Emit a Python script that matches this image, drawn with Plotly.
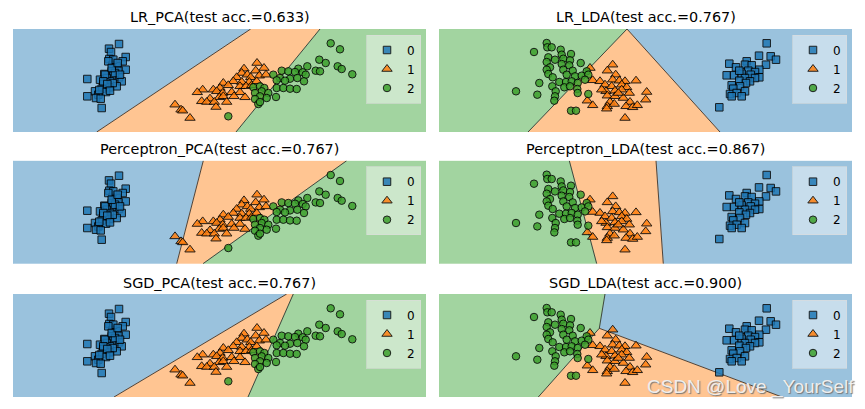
import plotly.graph_objects as go

# ---------------- data (panel units: x 0..413 left->right, y 0..103 top->bottom) -------------
class_labels = ["0", "1", "2"]
titles = [
    "LR_PCA(test acc.=0.633)", "LR_LDA(test acc.=0.767)",
    "Perceptron_PCA(test acc.=0.767)", "Perceptron_LDA(test acc.=0.867)",
    "SGD_PCA(test acc.=0.767)", "SGD_LDA(test acc.=0.900)",
]

pca_c0 = [(106, 15), (96, 19.7), (98, 23), (112.7, 28), (96.3, 30), (109.7, 32.3), (99.3, 36.3),
          (103.7, 37.3), (112.7, 40.7), (105.3, 41.7), (98.7, 42.3), (91.3, 45), (100.3, 46.7),
          (106, 48.3), (93.7, 49), (87, 50.7), (108.7, 52.3), (74.3, 50), (97, 52.3), (90.3, 55),
          (103.7, 57.3), (96.3, 58.3), (88.7, 59.7), (82, 62.3), (93, 63), (85.3, 65.7), (74.3, 67.3),
          (83, 69), (87.7, 69.7), (88.7, 79), (92, 45.7), (102, 44), (107, 45.7), (90.3, 52.3),
          (99.7, 54), (94.3, 55), (97, 61.7), (86.3, 61), (100.3, 30.7), (95.3, 32.3), (98.7, 39),
          (104.7, 34)]
pca_c1 = [(244, 34), (251, 39), (231, 39.7), (242.7, 41.7), (228.7, 44), (234.3, 45.7), (246.3, 46.7),
          (223.7, 48.3), (237.7, 48.3), (253, 45.7), (220.3, 52.3), (228.7, 53), (236.3, 53),
          (210.3, 54), (215.3, 56.3), (227, 57.3), (233, 57.3), (207, 59), (200.3, 60.7), (189.7, 60.7),
          (184.3, 63.3), (203.7, 62.3), (209.7, 64), (218.7, 63.3), (227, 63.3), (197, 69.7),
          (206.3, 68.3), (210.3, 67.3), (221, 67.3), (232, 68.3), (188.7, 72.3), (193.7, 73),
          (201.3, 73), (213.7, 73), (203, 78), (162, 75.7), (168, 80.7), (169.7, 81.7), (177, 89),
          (238.7, 56.3), (243.7, 52.3)]
pca_c2 = [(317.7, 14.3), (327, 20.3), (306.3, 30.7), (312.7, 34), (324.7, 37.3), (328.7, 40),
          (339.3, 45.3), (294.3, 37.3), (285.3, 39.7), (302.7, 41.7), (307, 42.3), (268.7, 41.7),
          (275.3, 42.3), (282, 43), (289.7, 43.3), (292.7, 45.7), (260.3, 45.7), (267, 49), (277, 49.7),
          (284.3, 49), (291, 52.3), (263.7, 51.3), (272, 51.7), (240.3, 58.3), (247, 57.3), (251.3, 59),
          (263.7, 59), (270.3, 59), (277, 59.7), (283.7, 60), (248.7, 62.3), (255.3, 64), (242, 64),
          (247, 67.3), (253.7, 69), (263, 68), (242, 70), (245.3, 75), (247, 73), (215.3, 87.3)]

lda_c0 = [(327.7, 14.3), (320, 26.7), (331.7, 27.3), (337, 30.7), (307.7, 32.3), (290.3, 34.7),
          (306, 35.7), (312.7, 36.3), (327, 35.7), (297, 38.3), (320.3, 40.7), (309.3, 41.7), (316, 43),
          (302.7, 44.7), (287.7, 46.3), (295, 46.3), (311.7, 45.7), (320.3, 48.3), (306, 49), (316, 49),
          (300.3, 51.7), (311, 52.3), (307, 54), (292.7, 56.3), (301, 57.3), (294.3, 59.7), (306, 62.3),
          (291, 65), (297.7, 64), (292.7, 67.3), (302.7, 67.3), (280.3, 78.3), (300.3, 41.7)]
lda_c1 = [(173.7, 35.7), (151, 39), (168.3, 41.7), (176.7, 45.7), (153.7, 51.3), (161, 52.3),
          (173.7, 50.7), (180.3, 51.7), (186, 52.3), (197, 51.7), (166, 55.7), (172.7, 57.3),
          (182.7, 55.7), (187.7, 58.3), (167, 62.3), (176, 61.7), (182.7, 60.7), (190.3, 64),
          (207.7, 63), (168.3, 66.7), (176, 67.3), (184.3, 69), (148.3, 71.7), (171, 73), (191, 73),
          (206.7, 70.7), (153.7, 76.3), (168.3, 77.3), (175.3, 75), (187, 77.3), (193.7, 78.3),
          (198.3, 76.3), (167.7, 79.7), (186, 89), (179.3, 64), (162.7, 60.7)]
lda_c2 = [(107.7, 14), (108.3, 18.3), (112.7, 18.3), (95, 23), (121.7, 20.7), (132, 25), (122.7, 25.7),
          (109.3, 28.3), (116, 30.7), (124.3, 29.7), (131, 31.3), (141.7, 34), (107.7, 33), (122.7, 35),
          (130.3, 36.3), (111, 38.3), (107.7, 40.7), (124.3, 40.7), (133.7, 41.7), (147.7, 42.3),
          (109.3, 45), (113.7, 48.3), (127.7, 45.7), (136, 47.3), (142.7, 46.7), (149.3, 45.7),
          (146, 50.7), (120.3, 53), (127, 53), (132.7, 52.3), (138.7, 54), (100.3, 54), (113.3, 57.3),
          (125.3, 58.3), (131, 57.3), (138.3, 60), (116.7, 62.3), (77, 62.3), (98.3, 65.7), (116, 67.3),
          (138.7, 64), (149.3, 65), (115.3, 71.7), (132, 81.7), (137, 81.7)]

# decision regions per panel: [class0 polygon, class1 polygon, class2 polygon]
lr_pca_regions = [[(0, 0), (237.7, 0), (83.7, 103), (0, 103)],
                  [(237.7, 0), (307, 0), (223, 103), (83.7, 103)],
                  [(307, 0), (413, 0), (413, 103), (223, 103)]]
lr_lda_regions = [[(188, 0), (413, 0), (413, 103), (281, 103)],
                  [(188, 0), (281, 103), (89, 103)],
                  [(0, 0), (188, 0), (89, 103), (0, 103)]]
pcp_pca_regions = [[(0, 0), (190.3, 0), (163.7, 103), (0, 103)],
                   [(190.3, 0), (333.7, 0), (190, 103), (163.7, 103)],
                   [(333.7, 0), (413, 0), (413, 103), (190, 103)]]
pcp_lda_regions = [[(217, 0), (413, 0), (413, 103), (224.3, 103)],
                   [(130.3, 0), (217, 0), (224.3, 103), (157.7, 103)],
                   [(0, 0), (130.3, 0), (157.7, 103), (0, 103)]]
sgd_pca_regions = [[(0, 0), (273.7, 0), (101, 103), (0, 103)],
                   [(273.7, 0), (280.3, 0), (235, 103), (101, 103)],
                   [(280.3, 0), (413, 0), (413, 103), (235, 103)]]
sgd_lda_regions = [[(166, 0), (413, 0), (413, 103), (343, 103), (160.3, 34.3)],
                   [(160.3, 34.3), (343, 103), (99.3, 103)],
                   [(0, 0), (166, 0), (160.3, 34.3), (99.3, 103), (0, 103)]]

lr_pca_bounds = [[(237.7, 0), (83.7, 103)], [(307, 0), (223, 103)]]
lr_lda_bounds = [[(89, 103), (188, 0), (281, 103)]]
pcp_pca_bounds = [[(190.3, 0), (163.7, 103)], [(333.7, 0), (190, 103)]]
pcp_lda_bounds = [[(130.3, 0), (157.7, 103)], [(217, 0), (224.3, 103)]]
sgd_pca_bounds = [[(273.7, 0), (101, 103)], [(280.3, 0), (235, 103)]]
sgd_lda_bounds = [[(166, 0), (160.3, 34.3), (99.3, 103)], [(160.3, 34.3), (343, 103)]]

# ---------------- styling -------------
marker_colors = ["#1f77b4", "#ff7f0e", "#3ca02c"]
region_colors = ["#9ac2dd", "#ffc592", "#a2d4a0"]
symbols = ["square", "triangle-up", "circle"]
marker_sizes = [7.5, 9, 7.5]

FIG_W, FIG_H = 865, 409
col_left = [13, 439]
panel_w = 413
row_top = [29, 160.7, 294]
panel_h = 103

panels = [
    (lr_pca_regions, lr_pca_bounds, "pca"), (lr_lda_regions, lr_lda_bounds, "lda"),
    (pcp_pca_regions, pcp_pca_bounds, "pca"), (pcp_lda_regions, pcp_lda_bounds, "lda"),
    (sgd_pca_regions, sgd_pca_bounds, "pca"), (sgd_lda_regions, sgd_lda_bounds, "lda"),
]
point_sets = {"pca": [pca_c0, pca_c1, pca_c2], "lda": [lda_c0, lda_c1, lda_c2]}

fig = go.Figure()
layout = dict(
    width=FIG_W, height=FIG_H, margin=dict(l=0, r=0, t=0, b=0),
    paper_bgcolor="white", plot_bgcolor="white",
    font=dict(family="DejaVu Sans", color="black"),
)
annotations = []

for k, (regions, bounds, kind) in enumerate(panels):
    r, c = divmod(k, 2)
    idx = "" if k == 0 else str(k + 1)
    xa, ya = "x" + idx, "y" + idx
    leg = "legend" + idx
    x0 = col_left[c] / FIG_W
    x1 = (col_left[c] + panel_w) / FIG_W
    y1 = 1 - row_top[r] / FIG_H
    y0 = 1 - (row_top[r] + panel_h) / FIG_H
    layout["xaxis" + idx] = dict(domain=[x0, x1], range=[0, panel_w], visible=False,
                                 anchor=ya, fixedrange=True)
    layout["yaxis" + idx] = dict(domain=[y0, y1], range=[panel_h, 0], visible=False,
                                 anchor=xa, fixedrange=True)
    for ci, poly in enumerate(regions):
        px = [p[0] for p in poly] + [poly[0][0]]
        py = [p[1] for p in poly] + [poly[0][1]]
        fig.add_trace(go.Scatter(x=px, y=py, mode="lines", fill="toself",
                                 fillcolor=region_colors[ci],
                                 line=dict(width=0.6, color=region_colors[ci]),
                                 hoverinfo="skip", showlegend=False, xaxis=xa, yaxis=ya))
    for b in bounds:
        fig.add_trace(go.Scatter(x=[p[0] for p in b], y=[p[1] for p in b], mode="lines",
                                 line=dict(width=0.8, color="#222222"),
                                 hoverinfo="skip", showlegend=False, xaxis=xa, yaxis=ya))
    for ci, pts in enumerate(point_sets[kind]):
        fig.add_trace(go.Scatter(
            x=[p[0] for p in pts], y=[p[1] for p in pts], mode="markers",
            name=class_labels[ci], legend=leg,
            marker=dict(symbol=symbols[ci], size=marker_sizes[ci], color=marker_colors[ci],
                        opacity=0.85, line=dict(width=1, color="black")),
            xaxis=xa, yaxis=ya))
    layout[leg] = dict(
        x=(col_left[c] + panel_w - 5) / FIG_W, y=1 - (row_top[r] + 5.5) / FIG_H,
        xanchor="right", yanchor="top",
        bgcolor="rgba(255,255,255,0.45)", bordercolor="rgba(220,220,220,0.6)", borderwidth=1,
        font=dict(family="DejaVu Sans", size=12, color="black"),
        itemwidth=30, tracegroupgap=0,
    )
    annotations.append(dict(
        text=titles[k], xref="paper", yref="paper",
        x=(col_left[c] + panel_w / 2) / FIG_W, y=1 - (row_top[r] - 11.5) / FIG_H,
        xanchor="center", yanchor="middle", showarrow=False,
        font=dict(family="DejaVu Sans", size=14.4, color="black")))

annotations.append(dict(
    text="CSDN @Love _YourSelf", xref="paper", yref="paper",
    x=856 / FIG_W, y=1 - 400 / FIG_H, xanchor="right", yanchor="bottom", showarrow=False,
    font=dict(family="Liberation Sans, Arial", size=19, color="#eeeeee",
              shadow="1px 1px 1px #777777")))

layout["annotations"] = annotations
fig.update_layout(**layout)
fig.write_html("out.html", config={"displayModeBar": False},
               post_script="document.body.style.margin='0px';")
